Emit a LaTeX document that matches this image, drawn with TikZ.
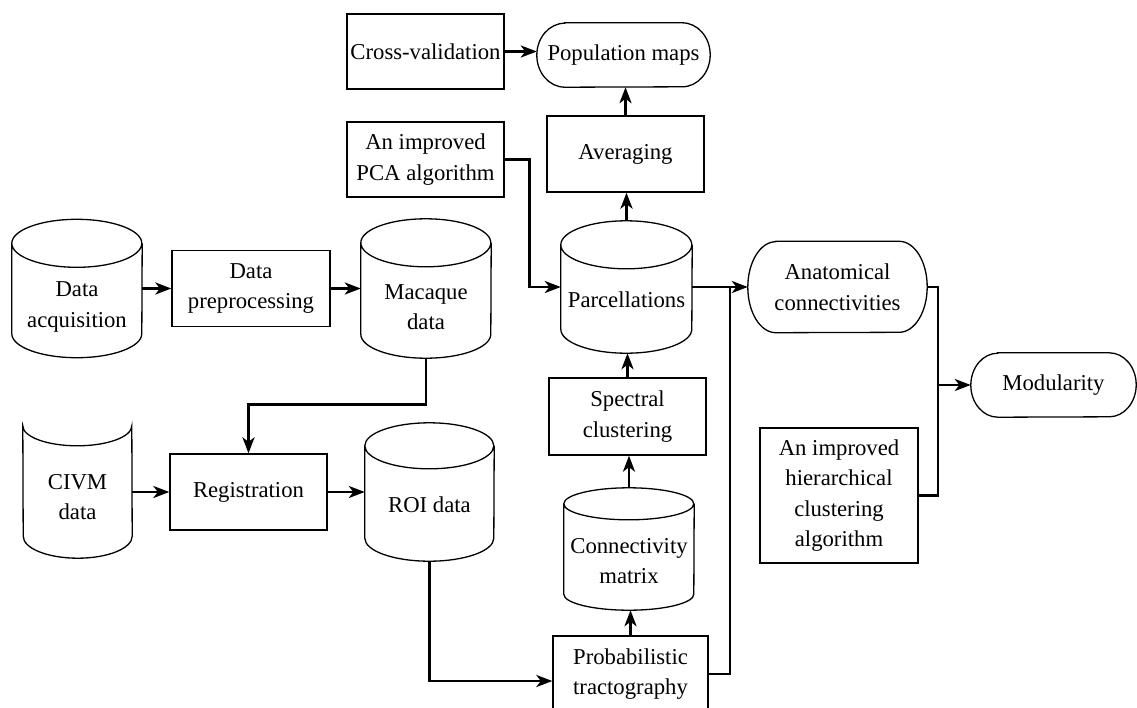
\documentclass[tikz,border=0pt]{standalone}
\usepackage{fontspec}
\setmainfont{Liberation Serif}
\newfontfamily\diagfont{Liberation Serif}
\usetikzlibrary{arrows.meta,calc}
\tikzset{
  shapeline/.style={line width=1.3pt},
  boxnode/.style={draw, line width=1.3pt, rectangle, inner sep=0pt, align=center},
  blank/.style={inner sep=0pt, rectangle, align=center},
  txt/.style={inner sep=0pt, align=center},
  arr/.style={line width=2.7pt, -{Stealth[length=16pt,width=12pt,inset=4.5pt]}},
  wire/.style={line width=2.7pt},
}
\newcommand{\cylshape}[3]{%
  \draw[shapeline] ($(#1.north west)+(0pt,-#3)$)
    arc[start angle=180,end angle=360,x radius=#2,y radius=#3]
    arc[start angle=0,end angle=180,x radius=#2,y radius=#3]
    -- ($(#1.south west)+(0pt,#3)$)
    arc[start angle=180,end angle=360,x radius=#2,y radius=#3]
    -- ($(#1.north east)+(0pt,-#3)$);}
\newcommand{\tapeshape}[3]{%
  \draw[shapeline] ($(#1.north west)+(#2,0pt)$) -- ($(#1.north east)+(-#2,0pt)$)
    arc[start angle=90,end angle=-90,x radius=#2,y radius=#3]
    -- ($(#1.south west)+(#2,0pt)$)
    arc[start angle=270,end angle=90,x radius=#2,y radius=#3] -- cycle;}
\begin{document}
\begin{tikzpicture}[x=1pt,y=-1pt,font=\diagfont\fontsize{22.7}{30.5}\selectfont]
\useasboundingbox (0,0) rectangle (1137,707);

% top row
\node[boxnode, minimum width=157pt, minimum height=75pt] (cv) at (425.5,51.5) {Cross-validation};
\node[blank, minimum width=173pt, minimum height=64pt] (pop) at (623.5,55) {Population maps};
\tapeshape{pop}{28pt}{32pt}
\node[boxnode, minimum width=157pt, minimum height=75pt] (pca) at (425.5,159.5) {An improved\\PCA algorithm};
\node[boxnode, minimum width=157pt, minimum height=76pt] (avg) at (625.5,154) {Averaging};

% middle row
\node[blank, minimum width=130pt, minimum height=138pt] (da) at (77,288.5) {};
\cylshape{da}{65pt}{24pt}
\node[txt] (da-t) at (77,307) {Data\\acquisition};
\node[boxnode, minimum width=158pt, minimum height=76pt] (pre) at (251,288.5) {Data\\preprocessing};
\node[blank, minimum width=130pt, minimum height=139pt] (mac) at (426,288.5) {};
\cylshape{mac}{65pt}{24pt}
\node[txt] (mac-t) at (426,307) {Macaque\\data};
\node[blank, minimum width=131pt, minimum height=132pt] (par) at (626.5,287) {};
\cylshape{par}{65.5pt}{24pt}
\node[txt] (par-t) at (626.5,300) {Parcellations};
\node[blank, minimum width=179pt, minimum height=91pt] (anat) at (837.5,287) {Anatomical\\connectivities};
\tapeshape{anat}{28pt}{45.5pt}
\node[blank, minimum width=165pt, minimum height=64pt] (mod) at (1053.5,385) {Modularity};
\tapeshape{mod}{27pt}{32pt}

% lower part
\node[boxnode, minimum width=157pt, minimum height=77pt] (spec) at (627.5,416.5) {Spectral\\clustering};
\node[boxnode, minimum width=158pt, minimum height=135pt] (hier) at (839,495.5) {An improved\\hierarchical\\clustering\\algorithm};
\node[blank, minimum width=109pt, minimum height=132pt] (civm) at (77.5,492) {};
\draw[shapeline] (civm.north west)
  arc[start angle=180,end angle=360,x radius=54.5pt,y radius=20pt]
  -- ($(civm.south east)+(0pt,22pt)$)
  arc[start angle=0,end angle=-180,x radius=54.5pt,y radius=22pt] -- cycle;
\node[txt] (civm-t) at (77.5,497) {CIVM\\data};
\node[boxnode, minimum width=157pt, minimum height=76pt] (reg) at (248.5,492) {Registration};
\node[blank, minimum width=129pt, minimum height=138pt] (roi) at (429.5,492) {};
\cylshape{roi}{64.5pt}{23pt}
\node[txt] (roi-t) at (429.5,505) {ROI data};
\node[blank, minimum width=130pt, minimum height=122pt] (conn) at (629,549) {};
\cylshape{conn}{65pt}{16pt}
\node[txt] (conn-t) at (629,561) {Connectivity\\matrix};
\node[boxnode, minimum width=155pt, minimum height=76pt] (prob) at (630.5,674) {Probabilistic\\tractography};

% connectors
\coordinate (vj) at (730,287);
\coordinate (mj) at (938,385);
\draw[arr] (da.east) -- (pre.west);
\draw[arr] (pre.east) -- (mac.west);
\draw[arr] (mac.south) -- ++(0,46) -| (reg.north);
\draw[arr] (civm.east) -- (reg.west);
\draw[arr] (reg.east) -- (roi.west);
\draw[arr] (roi.south) |- ([yshift=-7pt]prob.west);
\draw[arr] (prob.north) -- (prob.north |- conn.south);
\draw[arr] (conn.north) -- (conn.north |- spec.south);
\draw[arr] (spec.north) -- (spec.north |- par.south);
\draw[arr] (par.north) -- (par.north |- avg.south);
\draw[arr] (avg.north) -- (avg.north |- pop.south);
\draw[arr] (cv.east) -- (cv.east -| pop.west);
\draw[arr] (pca.east) -- ++(25,0) |- (par.west);
\draw[arr] (par.east) -- (anat.west);
\draw[wire] (prob.east) -| (vj);
\draw[wire] (anat.east) -| (mj);
\draw[wire] (hier.east) -| (mj);
\draw[arr] (mj) -- (mod.west);
\end{tikzpicture}
\end{document}
